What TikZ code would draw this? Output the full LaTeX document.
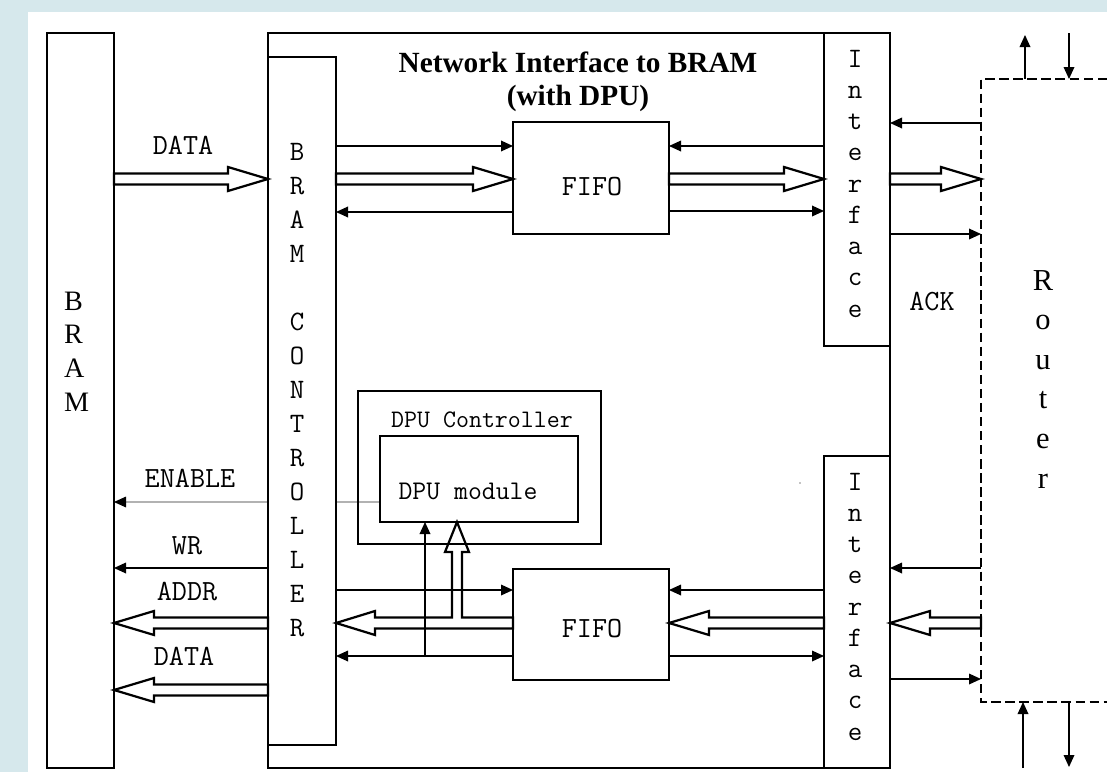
\documentclass[tikz,border=0pt]{standalone}
\usepackage{fontspec}
\setmainfont{Liberation Serif}
\usetikzlibrary{fit,calc,arrows.meta}
\definecolor{bgblue}{RGB}{214,232,236}
\newcommand{\hollowarrow}[2]{%
  \path #1 coordinate (ha-s) #2 coordinate (ha-e);
  \coordinate (ha-b) at ($(ha-e)!1.2cm!(ha-s)$);
  \draw[dblarrow] ($(ha-s)!0.165cm!90:(ha-e)$) -- ($(ha-b)!0.165cm!-90:(ha-s)$) -- ($(ha-b)!0.36cm!-90:(ha-s)$) -- (ha-e) -- ($(ha-b)!0.36cm!90:(ha-s)$) -- ($(ha-b)!0.165cm!90:(ha-s)$) -- ($(ha-s)!0.165cm!-90:(ha-e)$) -- cycle;}
\begin{document}
\begin{tikzpicture}[x=0.03cm,y=-0.03cm,
  box/.style={draw, line width=1.2pt, inner sep=0pt, outer sep=0pt},
  sarrow/.style={line width=1.1pt, -{Triangle[length=3.6mm,width=3.2mm]}},
  dblarrow/.style={line width=1.9pt, line join=miter},
  mono/.style={font=\ttfamily\fontsize{25}{29}\selectfont, inner sep=0pt, anchor=base},
  monos/.style={font=\ttfamily\fontsize{21.5}{25}\selectfont, inner sep=0pt, anchor=base},
  monov/.style={font=\ttfamily\fontsize{24}{28}\selectfont, inner sep=0pt, anchor=base},
  serl/.style={font=\fontsize{24}{28}\selectfont, inner sep=0pt, anchor=base west},
  serr/.style={font=\fontsize{26}{30}\selectfont, inner sep=0pt, anchor=base},
]
\useasboundingbox (0,0) rectangle (1107,772);
\fill[bgblue] (0,0) rectangle (1107,772);
\fill[white] (28,12) rectangle (1107,772);

% boxes
\node[box, fit={(47,33) (114,768)}] (bram) {};
\node[box, fit={(380,436) (578,522)}] (dpumod) {};
\node[inner sep=0pt, outer sep=0pt, fit={(981,79) (1107,702)}] (router) {};

% ENABLE line (behind controller)
\draw[line width=0.9pt, black!30, -{Triangle[length=3.6mm,width=3.2mm,color=black]}] (dpumod.west |- 0,502) -- (bram.east |- 0,502);

\node[box, fill=white, fit={(268,57) (336,745)}] (bramctl) {};
\node[box, line width=2.2pt, fit={(268,33) (890,768)}] (ni) {};
\node[box, fit={(513,122) (669,234)}] (fifo1) {};
\node[box, fit={(513,569) (669,680)}] (fifo2) {};
\node[box, fit={(824,33) (890,346)}] (ifc1) {};
\node[box, fit={(824,456) (890,768)}] (ifc2) {};
\node[box, fit={(358,391) (601,544)}] (dpuctl) {};
\draw[box] (dpumod.north west) rectangle (dpumod.south east);

% router dashed outline
\draw[line width=1.1pt, dash pattern=on 8pt off 4pt] (router.north east) -- (router.north west) -- (router.south west) -- (router.south east);
\coordinate (rtu) at (1025,35);
\coordinate (rtd) at (1069,33);
\coordinate (rbu) at (1023,768);
\coordinate (rbd) at (1069,767);
\draw[sarrow] (router.north -| rtu) -- (rtu);
\draw[sarrow] (rtd) -- (router.north -| rtd);
\draw[sarrow] (rbu) -- (router.south -| rbu);
\draw[sarrow] (router.south -| rbd) -- (rbd);

% top connectors
\hollowarrow{(bram.east |- 0,179)}{(bramctl.west |- 0,179)}
\draw[sarrow] (bramctl.east |- 0,146) -- (fifo1.west |- 0,146);
\hollowarrow{(bramctl.east |- 0,179)}{(fifo1.west |- 0,179)}
\draw[sarrow] (fifo1.west |- 0,212) -- (bramctl.east |- 0,212);
\draw[sarrow] (ifc1.west |- 0,146) -- (fifo1.east |- 0,146);
\hollowarrow{(fifo1.east |- 0,179)}{(ifc1.west |- 0,179)}
\draw[sarrow] (fifo1.east |- 0,211) -- (ifc1.west |- 0,211);
\draw[sarrow] (router.west |- 0,123) -- (ifc1.east |- 0,123);
\hollowarrow{(ifc1.east |- 0,179)}{(router.west |- 0,179)}
\draw[sarrow] (ifc1.east |- 0,234) -- (router.west |- 0,234);

% bottom connectors
\draw[sarrow] (bramctl.west |- 0,568) -- (bram.east |- 0,568);
\hollowarrow{(bramctl.west |- 0,623)}{(bram.east |- 0,623)}
\hollowarrow{(bramctl.west |- 0,690)}{(bram.east |- 0,690)}
\draw[sarrow] (bramctl.east |- 0,590) -- (fifo2.west |- 0,590);
\draw[dblarrow] (fifo2.west |- 0,628.5) -- (375,628.5) -- (375,635) -- (bramctl.east |- 0,623) -- (375,611) -- (375,617.5) -- (452,617.5) -- (452,552) -- (445,552) -- (dpumod.south -| 457,0) -- (469,552) -- (462,552) -- (462,617.5) -- (fifo2.west |- 0,617.5) -- cycle;
\draw[sarrow] (fifo2.west |- 0,656) -- (bramctl.east |- 0,656);
\draw[sarrow] (425,656) -- (dpumod.south -| 425,0);
\draw[sarrow] (ifc2.west |- 0,590) -- (fifo2.east |- 0,590);
\hollowarrow{(ifc2.west |- 0,623)}{(fifo2.east |- 0,623)}
\draw[sarrow] (fifo2.east |- 0,656) -- (ifc2.west |- 0,656);
\draw[sarrow] (router.west |- 0,568) -- (ifc2.east |- 0,568);
\hollowarrow{(router.west |- 0,623)}{(ifc2.east |- 0,623)}
\draw[sarrow] (ifc2.east |- 0,679) -- (router.west |- 0,679);
\fill (800,483) circle (0.6);

% texts
\node[font=\bfseries\fontsize{25}{29}\selectfont, anchor=base, inner sep=0pt] (title1) at (578,72) {Network Interface to BRAM};
\node[font=\bfseries\fontsize{25}{29}\selectfont, anchor=base, inner sep=0pt] (title2) at (578,105) {(with DPU)};
\foreach \c [count=\i from 0] in {B,R,A,M}
  \node[serl] (bramt\i) at (64,310+33.7*\i) {\c};
\foreach \c [count=\i from 0] in {R,o,u,t,e,r}
  \node[serr] (routt\i) at (1043,290+39.6*\i) {\c};
\foreach \c/\i in {B/0,R/1,A/2,M/3,C/5,O/6,N/7,T/8,R/9,O/10,L/11,L/12,E/13,R/14}
  \node[monov] (ctlt\i) at (297,160+34*\i) {\c};
\foreach \c [count=\i from 0] in {I,n,t,e,r,f,a,c,e} {
  \node[monov] (ifat\i) at (855,67+31.25*\i) {\c};
  \node[monov] (ifbt\i) at (855,490+31.25*\i) {\c};
}
\node[mono] (ldata1) at (183,154) {DATA};
\node[mono] (lack) at (932,310) {ACK};
\node[mono] (lenable) at (190,487) {ENABLE};
\node[mono] (lwr) at (187,554) {WR};
\node[mono] (laddr) at (187,600) {ADDR};
\node[mono] (ldata2) at (184,665) {DATA};
\node[mono] (lfifo1) at (592,195) {FIFO};
\node[mono] (lfifo2) at (592,637) {FIFO};
\node[monos] (ldpuctl) at (482,427) {DPU Controller};
\node[monos, font=\ttfamily\fontsize{23}{27}\selectfont] (ldpumod) at (468,499) {DPU module};
\end{tikzpicture}
\end{document}
